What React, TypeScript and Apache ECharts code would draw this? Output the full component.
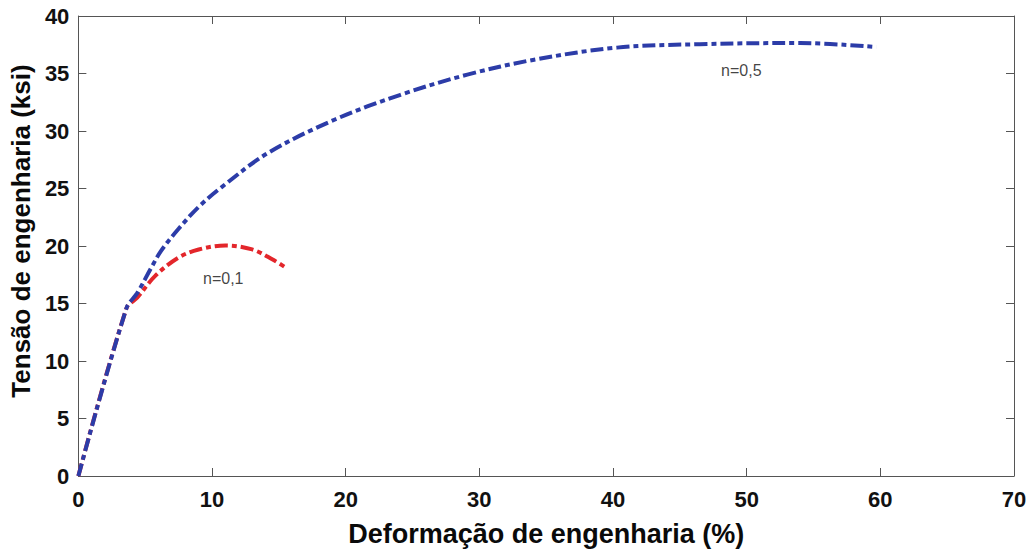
import React, { useEffect, useRef } from "react";
import * as echarts from "echarts";

const xTicks = [0, 10, 20, 30, 40, 50, 60, 70];
const yTicks = [0, 5, 10, 15, 20, 25, 30, 35, 40];

// n=0,5 curve (strain %, stress ksi)
const blueX = [0, 3.6, 4.4, 5.4, 6.2, 7.5, 9, 10.7, 14.2, 19.2, 24.1, 29.1, 34.1, 40.3, 46.5, 54, 59.7];
const blueY = [0, 14.6, 15.9, 18, 19.6, 21.5, 23.4, 25.1, 28.1, 31, 33.15, 34.9, 36.2, 37.25, 37.55, 37.65, 37.3];

// n=0,1 curve
const redX = [0, 3.6, 4.4, 5.75, 7.5, 9, 11, 13, 14.5, 15.6];
const redY = [0, 14.6, 15.5, 17.4, 19, 19.7, 20.05, 19.7, 18.85, 18.05];

const labelTexts = ["n=0,1", "n=0,5"];
const labelX = [10.84, 49.6];
const labelY = [17.2, 35.24];

const zip = (xs: number[], ys: number[]) => xs.map((x, i) => [x, ys[i]]);

export default function App() {
  const ref = useRef<HTMLDivElement>(null);
  useEffect(() => {
    if (!ref.current) return;
    const chart = echarts.init(ref.current, null, { renderer: "svg" });
    const axisColor = "#555555";
    const ff = "Liberation Sans, Arial, sans-serif";
    const tickFont = { fontFamily: ff, fontWeight: "bold" as const, fontSize: 22, color: "#111111" };
    const baseX = {
      type: "value" as const,
      min: xTicks[0],
      max: xTicks[xTicks.length - 1],
      interval: xTicks[1] - xTicks[0],
      splitLine: { show: false },
      axisLine: { show: true, onZero: false, lineStyle: { color: axisColor, width: 1 } },
      axisTick: { show: true, inside: true, length: 8, lineStyle: { color: axisColor } },
    };
    const baseY = {
      type: "value" as const,
      min: yTicks[0],
      max: yTicks[yTicks.length - 1],
      interval: yTicks[1] - yTicks[0],
      splitLine: { show: false },
      axisLine: { show: true, onZero: false, lineStyle: { color: axisColor, width: 1 } },
      axisTick: { show: true, inside: true, length: 8, lineStyle: { color: axisColor } },
    };
    chart.setOption({
      animation: false,
      backgroundColor: "#ffffff",
      grid: { left: 77, right: 18, top: 16, bottom: 75, containLabel: false },
      xAxis: [
        {
          ...baseX,
          position: "bottom",
          axisLabel: { ...tickFont, margin: 12 },
          name: "Deformação de engenharia (%)",
          nameLocation: "middle",
          nameGap: 44,
          nameTextStyle: { fontFamily: ff, fontWeight: "bold", fontSize: 27, color: "#0a0a0a" },
        },
        { ...baseX, position: "top", axisLabel: { show: false } },
      ],
      yAxis: [
        {
          ...baseY,
          position: "left",
          axisLabel: { ...tickFont, margin: 9 },
          name: "Tensão de engenharia (ksi)",
          nameLocation: "middle",
          nameGap: 37,
          nameTextStyle: { fontFamily: ff, fontWeight: "bold", fontSize: 26, color: "#0a0a0a", padding: [0, 0, 0, 30] },
        },
        { ...baseY, position: "right", axisLabel: { show: false } },
      ],
      series: [
        {
          type: "line",
          name: "n=0,1",
          data: zip(redX, redY),
          smooth: 0.35,
          showSymbol: false,
          symbol: "none",
          lineStyle: { color: "#e3262b", width: 4, type: [13, 4, 5, 4] },
          z: 2,
        },
        {
          type: "line",
          name: "n=0,5",
          data: zip(blueX, blueY),
          smooth: 0.35,
          showSymbol: false,
          symbol: "none",
          lineStyle: { color: "#2c3ca8", width: 4, type: [13, 4, 5, 4] },
          z: 3,
        },
        {
          type: "scatter",
          data: labelTexts.map((t, i) => ({ value: [labelX[i], labelY[i]], name: t })),
          symbolSize: 0,
          silent: true,
          label: {
            show: true,
            position: "inside",
            formatter: (p: any) => p.name,
            fontFamily: ff,
            fontSize: 16,
            color: "#111111",
          },
          z: 4,
        },
      ],
    });
    return () => chart.dispose();
  }, []);
  return (
    <div
      ref={ref}
      style={{ position: "absolute", left: 0, top: 0, width: 1032, height: 552, background: "#fff" }}
    />
  );
}
